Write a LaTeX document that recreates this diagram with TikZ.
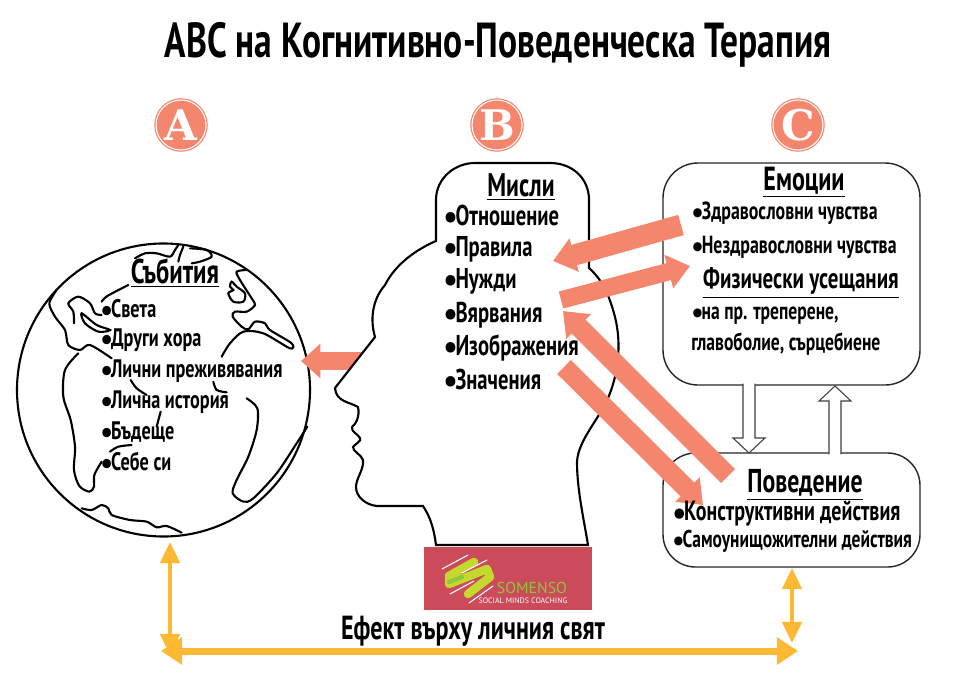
\documentclass[tikz,border=0pt]{standalone}
\usepackage{fontspec}
\setmainfont{PT Sans}[FakeStretch=0.72]
\newfontfamily\badgefont{DejaVu Serif}
\newfontfamily\logofont{PT Sans}
\usetikzlibrary{arrows.meta,calc}
\definecolor{salmon}{HTML}{F5866E}
\definecolor{amber}{HTML}{FDB933}
\definecolor{logored}{HTML}{CC4B5A}
\definecolor{logolime}{HTML}{C4D82E}
\definecolor{logogreen}{HTML}{8DC63F}
\newcommand{\bul}{\raisebox{-0.12em}{\scalebox{1.55}[1.2]{•}}\kern-0.08em}
\begin{document}
\begin{tikzpicture}[x=0.02cm, y=-0.02cm, line cap=round,
    badge/.style={circle, minimum size=1cm, inner sep=0pt, fill=salmon, draw=salmon,
        double=white, double distance=0.6pt, line width=0.7pt, text=white,
        font=\badgefont\bfseries\fontsize{24}{24}\selectfont},
    titletxt/.style={font=\bfseries\fontsize{28}{30}\selectfont},
    headtxt/.style={font=\bfseries\fontsize{#1}{#1}\selectfont},
    itemtxt/.style={anchor=west, inner sep=0pt, font=\bfseries\fontsize{#1}{#1}\selectfont},
    bigarrow/.style={salmon, line width=#1, line cap=butt,
        -{Triangle[length=12.5pt, width=19pt]}},
    worldarrow/.style 2 args={amber, line width=#1, line cap=butt,
        {Triangle[length=12pt, width=#2]}-{Triangle[length=12pt, width=#2]}},
    hollowarrow/.style={draw=black!75, fill=white, semithick, to path={
        ($(\tikztostart)+(-6,0)$) -- ($(\tikztotarget)+(-6,#1)$) -- ++(-10,0)
        -- (\tikztotarget) -- ($(\tikztotarget)+(16,#1)$) -- ++(-10,0)
        -- ($(\tikztostart)+(6,0)$)}}
    ]
    \useasboundingbox (0,0) rectangle (980,693);

    \node [titletxt] (title) at (498,45) {ABC на Когнитивно-Поведенческа Терапия};

    \node [badge] (badgeA) at (181,125) {A};
    \node [badge] (badgeB) at (497,125) {B};
    \node [badge] (badgeC) at (798,125) {C};

    % globe and its coast lines
    \draw [very thick] (163.5,390) circle (146.5);
    \begin{scope}[shift={(0,230)}, x=0.02cm/3, y=-0.02cm/3, very thick]
        \draw plot [smooth] coordinates {(170,180) (148,220) (165,260) (195,300) (205,345) (240,360) (270,345) (335,385)};
        \draw plot [smooth] coordinates {(235,370) (195,420) (190,500) (212,570) (225,650) (222,720) (238,768) (268,785) (282,770) (283,735) (305,695)};
        \draw plot [smooth] coordinates {(330,665) (355,650) (395,645)};
        \draw plot [smooth] coordinates {(222,280) (220,245) (205,220) (235,200) (270,220) (285,250) (305,255)};
        \draw plot [smooth cycle] coordinates {(245,250) (290,285) (330,300) (295,305) (255,280)};
        \draw plot [smooth] coordinates {(305,215) (322,198) (385,165)};
        \draw plot [smooth] coordinates {(405,85) (435,70) (470,70) (510,80) (525,60) (535,45)};
        \draw plot [smooth] coordinates {(550,50) (540,75) (535,95)};
        \draw plot [smooth] coordinates {(570,55) (620,60) (635,80) (600,95) (575,100)};
        \draw plot [smooth] coordinates {(740,120) (710,125) (720,150) (755,205) (765,225) (740,245) (705,245) (698,260) (725,290) (745,298) (765,275) (795,280) (810,300) (875,340) (870,355) (790,310) (730,305) (690,340) (665,380)};
        \draw plot [smooth cycle] coordinates {(695,155) (710,170) (735,190) (730,215) (700,215) (685,190) (700,180) (690,170)};
        \draw plot [smooth] coordinates {(640,455) (650,480) (680,487)};
        \draw plot [smooth] coordinates {(740,505) (772,535) (770,600) (745,680) (710,750) (698,790) (730,815) (760,805) (830,730) (890,640) (922,590)};
        \draw plot [smooth] coordinates {(392,450) (410,475) (440,495)};
        \draw plot [smooth] coordinates {(482,545) (470,590)};
        \draw plot [smooth] coordinates {(245,835) (275,840) (305,825) (325,835) (335,855) (390,870) (440,875) (470,892) (500,888) (545,908)};
    \end{scope}

    % head, opened at the top into the thought box
    \draw [salmon, line width=0.37cm, line cap=butt, -{Triangle[length=11pt, width=19pt]}]
        (373,361) coordinate (headface) -- (301,361) coordinate (globeedge);
    \draw [very thick, fill=white]
        (589,268) .. controls (600,278) and (608,290) .. (615,317)
        .. controls (622,345) and (618,375) .. (608,398)
        .. controls (600,418) and (578,440) .. (577,462)
        .. controls (577,490) and (584,520) .. (588,545)
        -- (436,545)
        .. controls (434,530) and (431,518) .. (423,506)
        -- (377,506)
        .. controls (366,505) and (356,497) .. (356,487)
        .. controls (356,478) and (364,470) .. (363,460)
        .. controls (361,454) and (353,452) .. (353,447)
        .. controls (355,444) and (362,441) .. (360,438)
        .. controls (358,434) and (351,432) .. (352,427)
        .. controls (356,424) and (360,416) .. (358,407)
        .. controls (350,402) and (336,402) .. (335,388)
        -- (375,337)
        .. controls (370,320) and (372,300) .. (385,285)
        .. controls (395,265) and (415,250) .. (436,241)
        -- (436,200) .. controls (436,178) and (455,163) .. (475,163)
        -- (550,163) .. controls (572,163) and (589,178) .. (589,200) -- cycle;

    % the two boxes on the right
    \draw [thick, rounded corners=0.7cm, black!85] (663,163) rectangle (920,385);
    \draw [thick, rounded corners=0.65cm, black!85] (663,453) rectangle (920,567);
    \path [hollowarrow=-15] (749,384) coordinate (emotionout) to (749,453) coordinate (behaviourin);
    \path [hollowarrow=15] (835,454) coordinate (behaviourout) to (835,386) coordinate (emotionin);

    \draw [bigarrow=0.42cm] (681,225) coordinate (feelstart) -- (553,261) coordinate (rulesend);
    \draw [bigarrow=0.35cm] (561,300) coordinate (needsstart) -- (690,266) coordinate (feelend);
    \draw [bigarrow=0.39cm] (728,476) coordinate (actstart) -- (563,311) coordinate (beliefend);
    \draw [bigarrow=0.39cm] (564,367) coordinate (meanstart) -- (703,505) coordinate (actend);

    % texts
    \node [headtxt=19.5] (events) at (175,273) {\underline{Събития}};
    \foreach \nm/\y/\txt in {a/310/Света, b/340/Други хора, c/371/Лични преживявания,
                             d/402/Лична история, e/432/Бъдеще, f/463/Себе си}
        \node [itemtxt=14.4] (event\nm) at (100,\y) {\bul\txt};

    \node [headtxt=18.6] (thoughts) at (521,187) {\underline{Мисли}};
    \foreach \nm/\y/\txt in {a/217/Отношение, b/249/Правила, c/281/Нужди,
                             d/315/Вярвания, e/348/Изображения, f/381/Значения}
        \node [itemtxt=16.3] (thought\nm) at (443,\y) {\bul\txt};

    \node [headtxt=19] (emotions) at (804,182) {\underline{Емоции}};
    \node [itemtxt=14.1] (emotiona) at (691,213) {\bul Здравословни чувства};
    \node [itemtxt=14.1] (emotionb) at (691,247) {\bul Нездравословни чувства};
    \node [headtxt=16.6] (physical) at (801,283) {\underline{Физически усещания}};
    \node [itemtxt=13.9] (physicala) at (691,316) {\bul на пр. треперене,};
    \node [itemtxt=13.9] (physicalb) at (691,344) {главоболие, сърцебиене};

    \node [headtxt=18.8] (behaviour) at (805,485) {\underline{Поведение}};
    \node [itemtxt=15.8] (behavioura) at (672,514) {\bul Конструктивни действия};
    \node [itemtxt=13.8] (behaviourb) at (672,541) {\bul Самоунищожителни действия};

    % logo
    \fill [logored] (424,547) rectangle (592,610);
    \draw [logolime, line width=0.17cm, line join=round]
        (474,562) -- (449,576) -- (449,584) -- (487,569) -- (490,577) -- (468,594);
    \draw [logogreen, line width=0.08cm] (449,582) -- (462,577);
    \draw [white, semithick] (442,569) -- (468,555) (462,573) -- (487,560)
        (450,594) -- (474,581) (469,603) -- (493,586);
    \node [inner sep=0pt, text=logogreen, font=\logofont\fontsize{9}{9}\selectfont] (somenso) at (532,588) {SOMENSO};
    \node [inner sep=0pt, text=white, font=\logofont\fontsize{4.5}{5}\selectfont] (coaching) at (523,601) {SOCIAL MINDS COACHING};

    % effect on the personal world
    \node [headtxt=19] (effect) at (473,631) {Ефект върху личния свят};
    \coordinate (worldleft) at (161,651);
    \coordinate (worldright) at (798,651);
    \draw [worldarrow={0.14cm}{15pt}] (worldleft) -- (worldright);
    \draw [worldarrow={0.08cm}{11pt}] (170,542) coordinate (globefoot) -- (170,655) coordinate (cornerleft);
    \draw [worldarrow={0.08cm}{11pt}] (792,568) coordinate (behaviourfoot) -- (792,643) coordinate (cornerright);
\end{tikzpicture}
\end{document}
